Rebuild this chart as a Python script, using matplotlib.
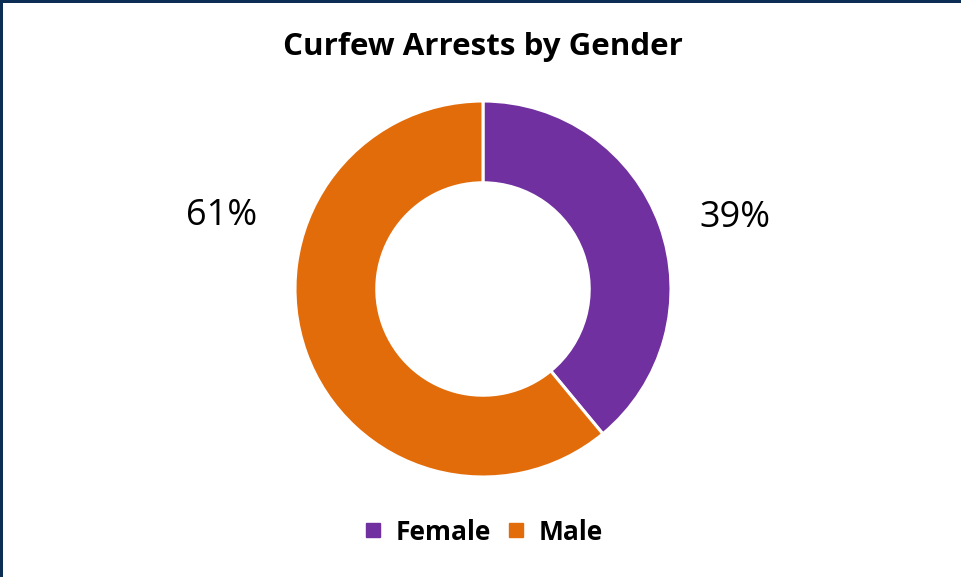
import matplotlib
matplotlib.use("Agg")
import matplotlib.pyplot as plt
from matplotlib.patches import Rectangle
from matplotlib.lines import Line2D

plt.rcParams['font.family'] = ['Open Sans', 'DejaVu Sans']

# data
genders = ['Female', 'Male']
shares = [39, 61]
colors = ['#7030A0', '#E36C0A']

W, H = 961, 577
fig = plt.figure(figsize=(W / 100, H / 100), dpi=100)

# donut axes: center (483, 289) px, radius 188 px
cx, cy, r = 483, 289, 188
ax = fig.add_axes([(cx - r) / W, (H - cy - r) / H, 2 * r / W, 2 * r / H])
ax.pie(shares, colors=colors, startangle=90, counterclock=False, radius=1,
       wedgeprops=dict(width=0.435, edgecolor='white', linewidth=2.2))
ax.set_xlim(-1, 1); ax.set_ylim(-1, 1)
ax.set_aspect('equal')
ax.axis('off')

# percentage labels (placed like excel's best fit)
lab_pos = {'Female': (1.34, 0.38), 'Male': (-1.39, 0.39)}
for g, v in zip(genders, shares):
    x, y = lab_pos[g]
    ax.text(x, y, f"{v}%", ha='center', va='center', fontsize=26, color='black')

fig.text(cx / W, 1 - 47 / H, 'Curfew Arrests by Gender', ha='center', va='center',
         fontsize=22.5, fontweight='bold')

handles = [Line2D([], [], marker='s', linestyle='none', markersize=10,
                  markerfacecolor=c, markeredgecolor=c) for c in colors]
leg = fig.legend(handles, genders, loc='center', bbox_to_anchor=(cx / W, 1 - 532 / H),
                 ncol=2, frameon=False, handlelength=0.8, handletextpad=0.45,
                 columnspacing=0.55, prop={'weight': 'bold', 'size': 19})

# frame lines on top and left
fig.patches.append(Rectangle((0, 1 - 2.5 / H), 1, 2.5 / H, transform=fig.transFigure,
                             facecolor='#0C2E55', edgecolor='none'))
fig.patches.append(Rectangle((0, 0), 2.5 / W, 1, transform=fig.transFigure,
                             facecolor='#0C2E55', edgecolor='none'))

fig.savefig('out.png', dpi=100, facecolor='white')
